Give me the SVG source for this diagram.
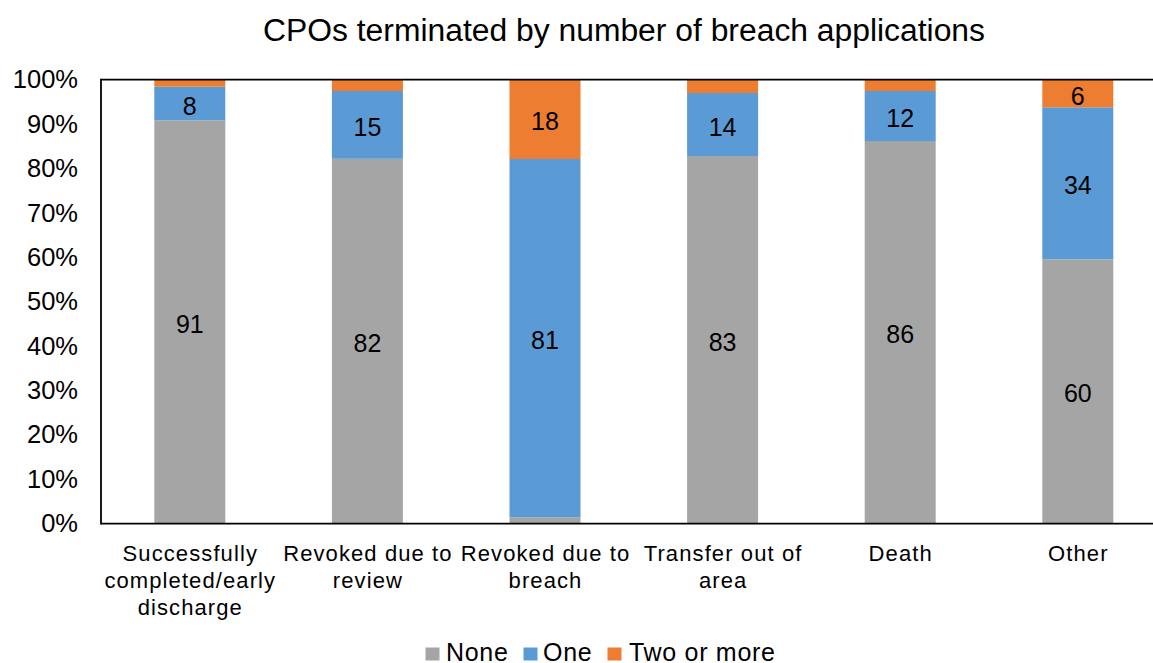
<svg xmlns="http://www.w3.org/2000/svg" width="1153" height="663" viewBox="0 0 1153 663">
<style>
text{font-family:"Liberation Sans",Arial,sans-serif;fill:#000}
.title{font-size:31px;text-anchor:middle}
.tick{font-size:25.5px;text-anchor:end}
.dl{font-size:25px;text-anchor:middle}
.cat{font-size:22px;text-anchor:middle;letter-spacing:1.1px}
.leg{font-size:25px;letter-spacing:0.7px}
.none{fill:#A5A5A5}
.one{fill:#5B9BD5}
.two{fill:#ED7D31}
.axis{stroke:#000;stroke-width:1.8;fill:none}
</style>
<rect width="1153" height="663" fill="#fff"/>
<text class="title" x="624" y="41" textLength="722" lengthAdjust="spacingAndGlyphs">CPOs terminated by number of breach applications</text>
<g id="yaxis">
<text class="tick" x="78" y="88.4">100%</text>
<text class="tick" x="78" y="132.8">90%</text>
<text class="tick" x="78" y="177.2">80%</text>
<text class="tick" x="78" y="221.5">70%</text>
<text class="tick" x="78" y="265.9">60%</text>
<text class="tick" x="78" y="310.3">50%</text>
<text class="tick" x="78" y="354.7">40%</text>
<text class="tick" x="78" y="399.1">30%</text>
<text class="tick" x="78" y="443.4">20%</text>
<text class="tick" x="78" y="487.8">10%</text>
<text class="tick" x="78" y="532.2">0%</text>
</g>
<g id="bar1">
<rect class="none" x="154.3" y="120.3" width="71" height="403.2"/>
<rect class="one" x="154.3" y="86.7" width="71" height="33.6"/>
<rect class="two" x="154.3" y="79.7" width="71" height="7"/>
<text class="dl" x="189.8" y="333">91</text>
<text class="dl" x="189.8" y="114.5">8</text>
<text class="cat" x="190.3" y="561">Successfully</text>
<text class="cat" x="190.3" y="588">completed/early</text>
<text class="cat" x="190.3" y="615">discharge</text>
</g>
<g id="bar2">
<rect class="none" x="331.9" y="158.8" width="71" height="364.7"/>
<rect class="one" x="331.9" y="91" width="71" height="67.8"/>
<rect class="two" x="331.9" y="79.7" width="71" height="11.3"/>
<text class="dl" x="367.4" y="352.2">82</text>
<text class="dl" x="367.4" y="135.9">15</text>
<text class="cat" x="367.9" y="561">Revoked due to</text>
<text class="cat" x="367.9" y="588">review</text>
</g>
<g id="bar3">
<rect class="none" x="509.5" y="517.3" width="71" height="6.2"/>
<rect class="one" x="509.5" y="159" width="71" height="358.3"/>
<rect class="two" x="509.5" y="79.7" width="71" height="79.3"/>
<text class="dl" x="545" y="349.2">81</text>
<text class="dl" x="545" y="130.4">18</text>
<text class="cat" x="545.5" y="561">Revoked due to</text>
<text class="cat" x="545.5" y="588">breach</text>
</g>
<g id="bar4">
<rect class="none" x="687.1" y="156" width="71" height="367.5"/>
<rect class="one" x="687.1" y="93" width="71" height="63"/>
<rect class="two" x="687.1" y="79.7" width="71" height="13.3"/>
<text class="dl" x="722.6" y="350.8">83</text>
<text class="dl" x="722.6" y="135.5">14</text>
<text class="cat" x="723.1" y="561">Transfer out of</text>
<text class="cat" x="723.1" y="588">area</text>
</g>
<g id="bar5">
<rect class="none" x="864.7" y="141" width="71" height="382.5"/>
<rect class="one" x="864.7" y="91" width="71" height="50"/>
<rect class="two" x="864.7" y="79.7" width="71" height="11.3"/>
<text class="dl" x="900.2" y="343.3">86</text>
<text class="dl" x="900.2" y="127">12</text>
<text class="cat" x="900.7" y="561">Death</text>
</g>
<g id="bar6">
<rect class="none" x="1042.3" y="259.3" width="71" height="264.2"/>
<rect class="one" x="1042.3" y="107.3" width="71" height="152"/>
<rect class="two" x="1042.3" y="79.7" width="71" height="27.6"/>
<text class="dl" x="1077.8" y="402.4">60</text>
<text class="dl" x="1077.8" y="194.3">34</text>
<text class="dl" x="1077.8" y="104.5">6</text>
<text class="cat" x="1078.3" y="561">Other</text>
</g>
<g id="axes">
<line class="axis" x1="101" y1="79.7" x2="1153" y2="79.7"/>
<line class="axis" x1="101" y1="523.7" x2="1153" y2="523.7"/>
<line class="axis" x1="101" y1="78.8" x2="101" y2="524.6"/>
</g>
<g id="legend">
<rect class="none" x="425.5" y="647.5" width="14" height="13"/>
<text class="leg" x="446" y="660.5">None</text>
<rect class="one" x="523.5" y="647.5" width="14" height="13"/>
<text class="leg" x="543" y="660.5">One</text>
<rect class="two" x="607.5" y="647.5" width="14" height="13"/>
<text class="leg" x="629" y="660.5">Two or more</text>
</g>
</svg>
